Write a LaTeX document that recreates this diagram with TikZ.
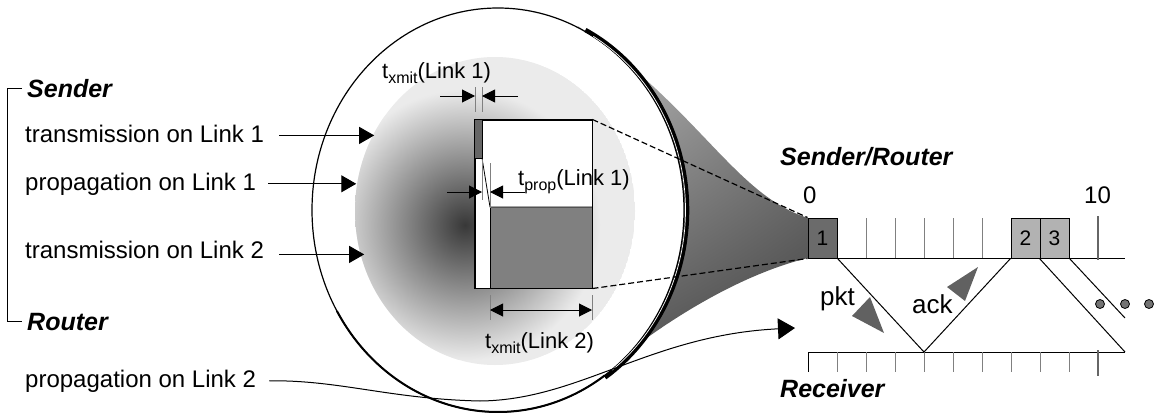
\documentclass[tikz,border=0pt]{standalone}
\usepackage{fontspec}
\setmainfont{Liberation Sans}
\usetikzlibrary{arrows.meta,calc,shadings}

\newcommand{\tsub}[2]{t\raisebox{-5pt}{\fontsize{16}{16}\selectfont #1}(#2)}

\tikzset{
  lbl/.style={font=\fontsize{24}{28}\selectfont, inner sep=0pt, anchor=base west},
  role/.style={font=\fontsize{25}{29}\selectfont\bfseries\itshape, inner sep=0pt, anchor=base west},
  dimlbl/.style={font=\fontsize{22}{26}\selectfont, inner sep=0pt, anchor=base west},
  ptr/.style={-{Triangle[length=15pt,width=17pt]}, line width=1pt},
  dimptr/.style={-{Triangle[length=13pt,width=13pt]}, line width=1pt},
  dimtick/.style={draw=gray, line width=0.8pt},
  timetick/.style={draw=gray, line width=0.9pt},
  slot/.style={draw, line width=1pt, minimum width=29pt, minimum height=40pt, inner sep=0pt, font=\fontsize{21}{24}\selectfont},
  zoomline/.style={line width=1.2pt, dash pattern=on 6pt off 3pt},
}

\begin{document}
\begin{tikzpicture}[x=1pt,y=-1pt]
\useasboundingbox (0,0) rectangle (1157,415);

% cone from the lens to slot 1
\shade[upper left=black!15, upper right=black!45, lower left=black!60, lower right=black!75]
  (808,218) .. controls (735,195) and (700,110) .. (578,26) -- (500,210) -- (615,362)
  .. controls (680,310) and (750,272) .. (808,258) -- cycle;

% lens
\draw[fill=white, line width=1.2pt] (498,210) ellipse [x radius=186, y radius=202];
\begin{scope}
  \clip (495,211) ellipse [x radius=140, y radius=154];
  \fill[black!8] (495,211) ellipse [x radius=140, y radius=154];
  \shade[inner color=black!78, outer color=black!8] (465,225) circle (135);
\end{scope}
\draw[line width=2pt] (498,210) ++(55:186 and 202)
  arc[start angle=55, end angle=150, x radius=186, y radius=202];
\draw[line width=4.5pt] (501,210) ++(-63:186 and 202)
  arc[start angle=-63, end angle=56, x radius=186, y radius=202];
\draw[white, line width=0.7pt] (501,210) ++(-60:184.5 and 200.5)
  arc[start angle=-60, end angle=53, x radius=184.5, y radius=200.5];

% zoomed packet
\node[draw, fill=white, line width=1pt, minimum width=117pt, minimum height=168pt, inner sep=0pt] (zoomrect) at (533.5,204) {};
\fill[black!60] (zoomrect.north west) rectangle (482,158);
\fill[gray] (490,207) rectangle (zoomrect.south east);
\draw[line width=0.8pt] (475,158) -- (482,158) -- (482,120);
\draw[line width=0.8pt] (482,158) -- (490,207) -- (592,207);
\draw[line width=0.8pt] (490,207) -- (490,288);
\draw[line width=1pt] (zoomrect.north west) rectangle (zoomrect.south east);

% t_xmit(Link 1)
\draw[dimtick] (475,87) -- (475,112);
\draw[dimtick] (482,87) -- (482,112);
\draw[dimptr] (440,96) -- (475,96);
\draw[dimptr] (518,96) -- (482,96);
\node[dimlbl] (xmit1) at (382,78) {\tsub{xmit}{Link 1}};

% t_prop(Link 1)
\draw[dimtick] (482,160) -- (482,200);
\draw[dimtick] (490,163) -- (490,208);
\draw[dimptr] (447,192) -- (482,192);
\draw[dimptr] (525,192) -- (490,192);
\node[dimlbl] (prop1) at (518,185) {\tsub{prop}{Link 1}};

% t_xmit(Link 2)
\draw[dimtick] (490,295) -- (490,320);
\draw[dimtick] (592,295) -- (592,320);
\draw[{Triangle[length=13pt,width=13pt]}-{Triangle[length=13pt,width=13pt]}, line width=1pt] (490,310) -- (592,310);
\node[dimlbl] (xmit2) at (485,348) {\tsub{xmit}{Link 2}};

% time lines
\node[role] (sr) at (780,165) {Sender/Router};
\node[lbl] (t0) at (803,203) {0};
\node[lbl] (t10) at (1084,203) {10};
\foreach \i in {1,...,9}
  \draw[timetick] ({808+29*\i},218) -- ({808+29*\i},258);
\draw[line width=1pt] (808,258) -- (1125,258);
\draw[draw=black!60, line width=2.5pt] (1098,216) -- (1098,260);
\node[slot, fill=black!58] (b1) at (822.5,238) {1};
\node[slot, fill=black!30] (b2) at (1025.5,238) {2};
\node[slot, fill=black!30] (b3) at (1054.5,238) {3};

\draw[line width=1pt] (808,352) -- (1125,352);
\draw[line width=0.9pt] (808,352) -- (808,372);
\foreach \i in {1,...,9}
  \draw[timetick] ({808+29*\i},352) -- ({808+29*\i},372);
\draw[draw=black!60, line width=2.5pt] (1098,350) -- (1098,376);
\node[role] (rcv) at (780,397) {Receiver};

\coordinate (r4) at (924,352);
\coordinate (rend) at (1125,352);
\coordinate (cut) at (1125,318);
\draw[line width=1pt] (b1.south east) -- (r4) -- (b2.south west);
\draw[line width=1pt] (b3.south west) -- (rend);
\draw[line width=1pt] (b3.south east) -- (cut);

\node[font=\fontsize{26}{30}\selectfont, inner sep=0pt, anchor=base west] (pkt) at (820,305) {pkt};
\node[font=\fontsize{26}{30}\selectfont, inner sep=0pt, anchor=base west] (ack) at (912,313) {ack};
\fill[black!62] (870,297) -- (852,316) -- (884,333) -- cycle;
\fill[black!62] (978,267) -- (947,287) -- (965,301) -- cycle;
\foreach \x in {1100,1125,1149}
  \draw[fill=black!55, line width=0.8pt] (\x,304) circle (4.5);

% zoom lines
\draw[zoomline] (zoomrect.north east) -- (b1.north west);
\draw[zoomline] (zoomrect.south east) -- (b1.south west);

% legend
\node[role] (snd) at (27,97) {Sender};
\node[role] (rtr) at (27,330) {Router};
\draw[line width=1pt] ([xshift=-5pt]snd.west) -- ++(-15,0) |- ([xshift=-5pt]rtr.west);

\node[lbl] (tl1) at (25,142) {transmission on Link 1};
\draw[ptr] ([xshift=15pt]tl1.east) ++(0,2) -- ++(95,0);
\node[lbl] (pl1) at (25,190) {propagation on Link 1};
\draw[ptr] ([xshift=12pt]pl1.east) -- ++(88,0);
\node[lbl] (tl2) at (25,258) {transmission on Link 2};
\draw[ptr] ([xshift=15pt]tl2.east) ++(0,5) -- ++(85,0);
\node[lbl] (pl2) at (25,387) {propagation on Link 2};
\coordinate (p2tip) at (795,328);
\draw[line width=1pt, -{Triangle[length=17pt,width=21pt]}] ([xshift=13pt]pl2.east)
  .. controls (340,380) and (390,399) .. (480,401)
  .. controls (580,400) and (650,335) .. (p2tip);
\end{tikzpicture}
\end{document}
